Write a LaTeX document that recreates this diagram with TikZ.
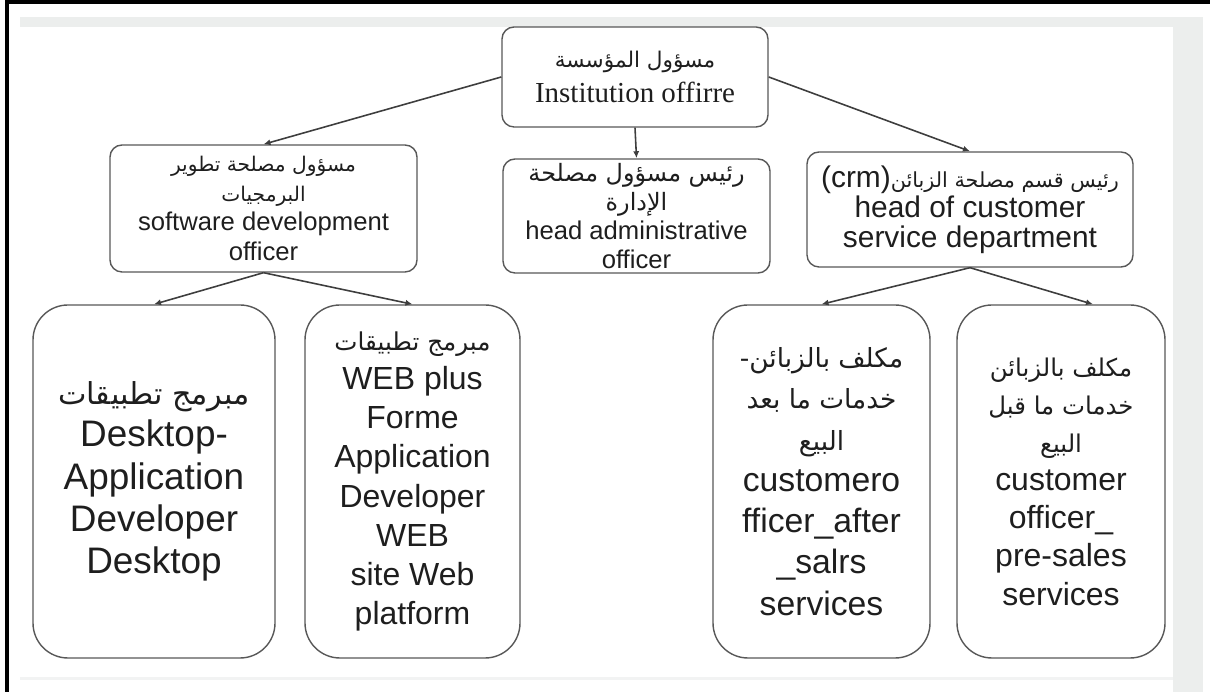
\documentclass[tikz,border=0pt]{standalone}
\usepackage{fontspec}
\setmainfont{Liberation Sans}
\newfontfamily\serifLatin{Liberation Serif}
\newfontfamily\arabicfont[Script=Arabic]{DejaVu Sans}
\TeXXeTstate=1
\usepackage{xcolor}
\usepackage{tikz}
\usetikzlibrary{arrows.meta,calc}
\definecolor{bandgray}{RGB}{236,238,237}
\definecolor{linegray}{RGB}{88,88,88}
\definecolor{textgray}{RGB}{30,30,30}
% Arabic line in a given size (pt)
\newcommand{\arText}[2]{{\fontsize{#1}{#1}\selectfont\arabicfont #2}}
\tikzstyle{tsText} = [ 
    text=textgray, 
    align=center
]
\tikzstyle{tsBox} = [ 
    rectangle,
    tsText,
    draw=linegray,
    line width=0.8pt,
    inner sep=0pt]
\tikzstyle{tsRoundedBox} = [  
    tsBox,
    rounded corners=0.24cm
]
\tikzstyle{tsTallBox} = [  
    tsBox,
    rounded corners=0.7cm,
    minimum height=7.06cm
]
\tikzstyle{tsArrow} = [ 
    -{Latex[length=4pt,width=3.5pt]},
    line width=0.9pt,
    draw=linegray!70!black
]

\begin{document}
\begin{tikzpicture}
        \useasboundingbox (0,0) rectangle (24.2,13.84);

        % frame of the page
        \fill[black] (0.1,13.76) rectangle (24.2,13.84);
        \fill[black] (0.1,0) rectangle (0.18,13.84);
        \fill[bandgray] (0.4,13.3) rectangle (24.06,13.5);
        \fill[bandgray] (23.46,0) rectangle (24.06,13.5);
        \fill[bandgray!70] (0.4,0.24) rectangle (23.46,0.3);

        \node[  tsRoundedBox,
                minimum width=5.32cm,
                minimum height=2.0cm,
                font=\fontsize{16.5}{19.8}\selectfont] (inst) at (12.7,12.30)
                {\arText{12.3}{\beginR مسؤول المؤسسة\endR}\\{\serifLatin Institution offirre}};

        \node[  tsRoundedBox,
                minimum width=6.14cm,
                minimum height=2.54cm,
                font=\fontsize{14.6}{17}\selectfont] (soft) at (5.27,9.67)
                {\arText{11.5}{\beginR مسؤول مصلحة تطوير\endR}\\\arText{11.5}{\beginR البرمجيات\endR}\\software development\\officer};

        \node[  tsRoundedBox,
                minimum width=5.34cm,
                minimum height=2.28cm,
                font=\fontsize{14.6}{16.5}\selectfont] (admin) at (12.73,9.52)
                {\arText{13.6}{\beginR رئيس مسؤول مصلحة\endR}\\\arText{13.6}{\beginR الإدارة\endR}\\head administrative\\officer};

        \node[  tsRoundedBox,
                minimum width=6.52cm,
                minimum height=2.3cm,
                font=\fontsize{17}{17}\selectfont] (crm) at (19.4,9.65)
                {\beginR{\fontsize{11.8}{11.8}\selectfont\arabicfont رئيس قسم مصلحة الزبائن}\beginL(crm)\endL\endR\\head of customer\\service department};

        \node[  tsTallBox,
                minimum width=4.84cm,
                font=\fontsize{21}{24}\selectfont] (desk) at (3.08,4.21)
                {\arText{17.2}{\beginR مبرمج تطبيقات\endR}\\Desktop-\\Application\\Developer\\Desktop};

        \node[  tsTallBox,
                minimum width=4.3cm,
                font=\fontsize{18.2}{22.3}\selectfont] (web) at (8.25,4.21)
                {\arText{14}{\beginR مبرمج تطبيقات\endR}\\WEB plus\\Forme\\Application\\Developer\\WEB\\site Web\\platform};

        \node[  tsTallBox,
                minimum width=4.34cm,
                font=\fontsize{19.2}{23.5}\selectfont] (after) at (16.43,4.21)
                {\arText{15}{\beginR مكلف بالزبائن-\endR}\\\arText{15}{\beginR خدمات ما بعد\endR}\\\arText{15}{\beginR البيع\endR}\\customero\\fficer\_after\\\_salrs\\services};

        \node[  tsTallBox,
                minimum width=4.16cm,
                font=\fontsize{18.2}{21.7}\selectfont] (pre) at (21.22,4.21)
                {\arText{13.9}{\beginR مكلف بالزبائن\endR}\\\arText{13.9}{\beginR خدمات ما قبل\endR}\\\arText{13.9}{\beginR البيع\endR}\\customer\\officer\_\\pre-sales\\services};

        \draw[tsArrow] (inst.west) -- (soft.north);
        \draw[tsArrow] (inst.south) -- (admin.north);
        \draw[tsArrow] (inst.east) -- (crm.north);
        \draw[tsArrow] (soft.south) -- (desk.north);
        \draw[tsArrow] (soft.south) -- (web.north);
        \draw[tsArrow] (crm.south) -- (after.north);
        \draw[tsArrow] (crm.south) -- ($(pre.north) + (0.64,0)$);

    \end{tikzpicture}
\end{document}
